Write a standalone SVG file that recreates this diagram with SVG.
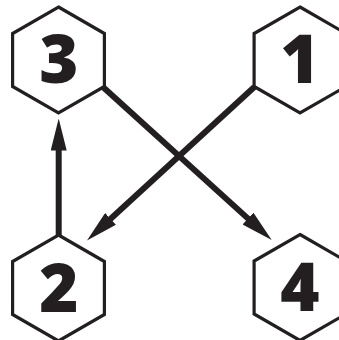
<svg xmlns="http://www.w3.org/2000/svg" width="339" height="340" viewBox="0 0 339 340">
<style>
.hex{fill:#fff;stroke:#231f20;stroke-width:3.2;stroke-linejoin:miter}
.lbl{font-family:"Open Sans","Liberation Sans",sans-serif;font-weight:800;font-size:67px;fill:#231f20;text-anchor:middle}
.edge{stroke:#231f20;stroke-width:6;fill:none;marker-end:url(#ah)}
</style>
<defs>
<marker id="ah" markerUnits="userSpaceOnUse" viewBox="0 0 32 16" markerWidth="32" markerHeight="16" refX="12" refY="8" orient="auto">
<path d="M0,0 L32,8 L0,16 Z" fill="#231f20"/>
</marker>
<polygon id="hx" points="0,-53 45.9,-26.5 45.9,26.5 0,53 -45.9,26.5 -45.9,-26.5"/>
</defs>
<g id="connectors">
<line class="edge" x1="58.7" y1="235" x2="58.7" y2="138.5"/>
<line class="edge" x1="254.3" y1="87" x2="101.7" y2="227"/>
<line class="edge" x1="103.5" y1="87.5" x2="256.9" y2="226.6"/>
</g>
<g id="node3">
<use href="#hx" class="hex" x="58.5" y="60"/>
<text class="lbl" x="59" y="83">3</text>
</g>
<g id="node1">
<use href="#hx" class="hex" x="300" y="60"/>
<text class="lbl" x="300" y="83">1</text>
</g>
<g id="node2">
<use href="#hx" class="hex" x="58.5" y="288"/>
<text class="lbl" x="59" y="312">2</text>
</g>
<g id="node4">
<use href="#hx" class="hex" x="300" y="287.5"/>
<text class="lbl" x="300" y="311">4</text>
</g>
</svg>
